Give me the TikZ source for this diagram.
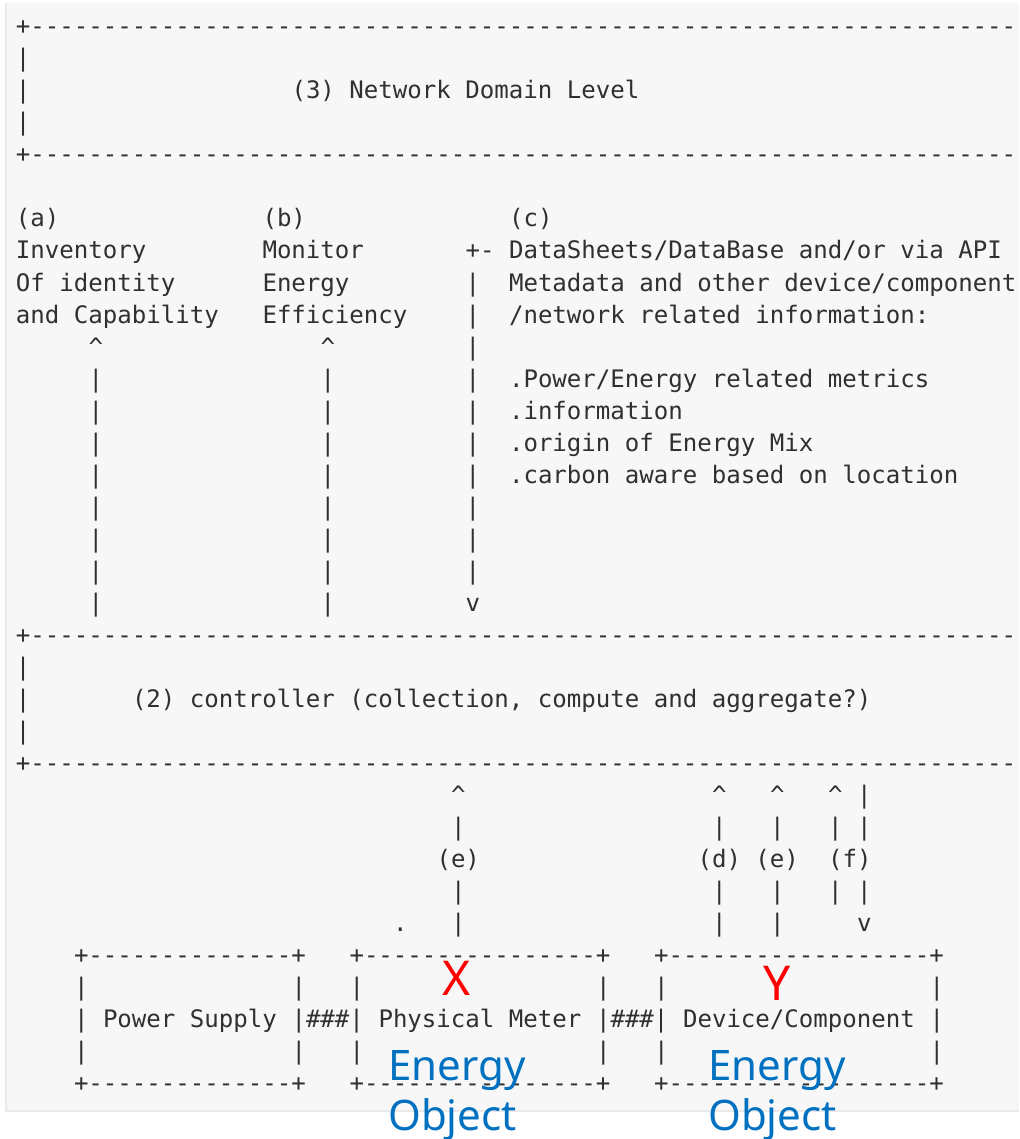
\documentclass[tikz,border=0pt]{standalone}
\usepackage{fontspec}
\newfontfamily\monofam{DejaVu Sans Mono}
\newfontfamily\labelfam{Noto Sans}
\definecolor{txt}{HTML}{303030}
\definecolor{bgc}{HTML}{F7F7F7}
\definecolor{edgec}{HTML}{EAEAEA}
\definecolor{eoblue}{HTML}{0070C0}
\newcommand\reps[2]{\foreach\k in {1,...,#1}{#2}}
\newcommand\T[4]{\node[mono] (#1) at ({16+14.5*(#2)},{-(35+32*(#3))}) {#4};}
\tikzset{
  mono/.style={font=\monofam\fontsize{24.08pt}{32pt}\selectfont, text=txt, anchor=base west, inner sep=0pt, outer sep=0pt},
  marklabel/.style={font=\labelfam\fontsize{48pt}{50pt}\selectfont, text=red, anchor=base, inner sep=0pt},
  eolabel/.style={font=\labelfam\fontsize{42pt}{50pt}\selectfont, text=eoblue, anchor=base west, inner sep=0pt}
}
\begin{document}
\begin{tikzpicture}[x=1pt,y=1pt]
\useasboundingbox (0,0) rectangle (1019,-1139);
\clip (0,0) rectangle (1019,-1139);
% page background
\fill[bgc] (6,-3) rectangle (1019,-1111);
\draw[edgec, line width=1.2pt] (6,-3) -- (6,-1111) -- (1019,-1111);

% (3) Network Domain Level box
\T{r0}{0}{0}{+\reps{72}{-}}
\T{r1}{0}{1}{|}
\T{r2}{0}{2}{|}
\T{net}{19}{2}{(3) Network Domain Level}
\T{r3}{0}{3}{|}
\T{r4}{0}{4}{+\reps{72}{-}}

% (a) (b) (c)
\T{la}{0}{6}{(a)}
\T{lb}{17}{6}{(b)}
\T{lc}{34}{6}{(c)}
\T{a1}{0}{7}{Inventory}
\T{a2}{0}{8}{Of identity}
\T{a3}{0}{9}{and Capability}
\T{b1}{17}{7}{Monitor}
\T{b2}{17}{8}{Energy}
\T{b3}{17}{9}{Efficiency}
\T{c0}{31}{7}{+-}
\T{c1}{34}{7}{DataSheets/DataBase and/or via API}
\T{c2}{34}{8}{Metadata and other device/component}
\T{c3}{34}{9}{/network related information:}
\T{c4}{34}{11}{.Power/Energy related metrics}
\T{c5}{34}{12}{.information}
\T{c6}{34}{13}{.origin of Energy Mix}
\T{c7}{34}{14}{.carbon aware based on location}
\T{aup}{5}{10}{\^{}}
\T{bup}{21}{10}{\^{}}
\foreach \r in {8,...,17} {\T{cv\r}{31}{\r}{|}}
\foreach \r in {11,...,18} {\T{av\r}{5}{\r}{|} \T{bv\r}{21}{\r}{|}}
\T{cdown}{31}{18}{v}

% (2) controller box
\T{r19}{0}{19}{+\reps{72}{-}}
\T{r20}{0}{20}{|}
\T{r21}{0}{21}{|}
\T{ctl}{8}{21}{(2) controller (collection, compute and aggregate?)}
\T{r22}{0}{22}{|}
\T{r23}{0}{23}{+\reps{72}{-}}

% lower arrows
\T{eup}{30}{24}{\^{}}
\T{dup}{48}{24}{\^{}}
\T{e2up}{52}{24}{\^{}}
\T{fup}{56}{24}{\^{}}
\T{fdv}{58}{24}{|}
\foreach \r in {25,27} {\T{ev\r}{30}{\r}{|} \T{dv\r}{48}{\r}{|} \T{e2v\r}{52}{\r}{|} \T{fv\r}{56}{\r}{|} \T{fw\r}{58}{\r}{|}}
\T{le}{29}{26}{(e)}
\T{lde}{47}{26}{(d) (e)}
\T{lf}{56}{26}{(f)}
\T{ev28}{30}{28}{|}
\T{dot}{26}{28}{.}
\T{dv28}{48}{28}{|}
\T{e2v28}{52}{28}{|}
\T{fdown}{58}{28}{v}

% bottom boxes
\T{t29a}{4}{29}{+\reps{14}{-}+}
\T{t29b}{23}{29}{+\reps{16}{-}+}
\T{t29c}{44}{29}{+\reps{18}{-}+}
\foreach \r in {30,32} {\T{s\r a}{4}{\r}{|} \T{s\r b}{19}{\r}{|} \T{s\r c}{23}{\r}{|} \T{s\r d}{40}{\r}{|} \T{s\r e}{44}{\r}{|} \T{s\r f}{63}{\r}{|}}
\T{s31a}{4}{31}{|}
\T{ps}{6}{31}{Power Supply}
\T{h1}{19}{31}{|\#\#\#|}
\T{pm}{25}{31}{Physical Meter}
\T{h2}{40}{31}{|\#\#\#|}
\T{dc}{46}{31}{Device/Component}
\T{s31f}{63}{31}{|}
\T{t33a}{4}{33}{+\reps{14}{-}+}
\T{t33b}{23}{33}{+\reps{16}{-}+}
\T{t33c}{44}{33}{+\reps{18}{-}+}

% coloured annotations
\node[marklabel] (X) at (457,-995) {X};
\node[marklabel] (Y) at (777,-1000) {Y};
\node[eolabel] (eo1a) at (388,-1080) {Energy};
\node[eolabel] (eo1b) at (388,-1130) {Object};
\node[eolabel] (eo2a) at (708,-1080) {Energy};
\node[eolabel] (eo2b) at (708,-1130) {Object};
\end{tikzpicture}
\end{document}
